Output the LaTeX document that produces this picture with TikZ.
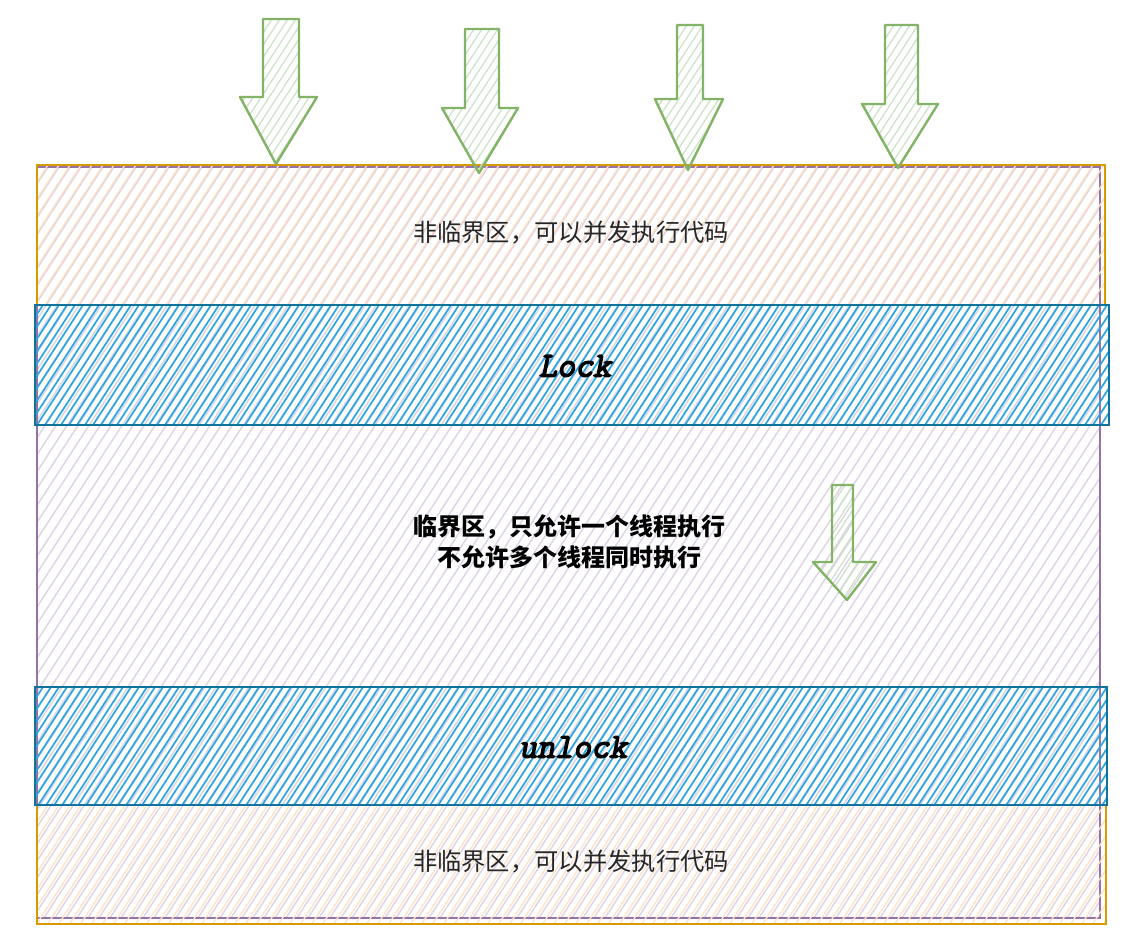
\documentclass[tikz,border=0pt]{standalone}
\usepackage{fontspec}
\newfontfamily\cjk{Noto Sans CJK SC}
\newfontfamily\codef[FakeBold=4,FakeSlant=0.2]{Latin Modern Mono}
\definecolor{purpB}{HTML}{9673A6}
\definecolor{purpH}{HTML}{DDD2E6}
\definecolor{orB}{HTML}{D79B00}
\definecolor{orH}{HTML}{FFE2C4}
\definecolor{blB}{HTML}{10739E}
\definecolor{blH}{HTML}{2AA6E0}
\definecolor{grB}{HTML}{82B366}
\definecolor{grH}{HTML}{C9E2C6}
\newcommand{\hatchlines}[6]{%
  \pgfmathsetmacro\hH{#4-#2}%
  \pgfmathsetmacro\hW{0.65*\hH}%
  \pgfmathsetmacro\hA{#1-\hW}%
  \pgfmathsetmacro\hB{\hA+#6}%
  \foreach \s in {\hA,\hB,...,#3} \draw[#5] (\s,#4) -- ++(\hW,-\hH);%
}
\newcommand{\hatchrect}[6]{%
  \begin{scope}
  \clip (#1,#2) rectangle (#3,#4);
  \hatchlines{#1}{#2}{#3}{#4}{#5}{#6}
  \end{scope}}
% arrow: shaft left, shaft right, top, head y, head left, head right, tip x, tip y
\newcommand{\bigarrow}[8]{%
  \begin{scope}
  \clip (#1,#3) -- (#2,#3) -- (#2,#4) -- (#6,#4) -- (#7,#8) -- (#5,#4) -- (#1,#4) -- cycle;
  \hatchlines{#5}{#3}{#6}{#8}{grH,line width=1.2pt}{8}
  \end{scope}
  \draw[arrowline] (#1,#3) -- (#2,#3) -- (#2,#4) -- (#6,#4) -- (#7,#8) -- (#5,#4) -- (#1,#4) -- cycle;}
\tikzset{
  arrowline/.style={draw=grB, line width=2.4pt, line join=round},
  txt/.style={font=\cjk\fontsize{24.3}{30}\selectfont, text=black!85, align=center},
  btxt/.style={font=\cjk\bfseries\fontsize{24}{31}\selectfont, text=black, align=center},
  code/.style={font=\codef\fontsize{35}{36}\selectfont, text=black}
}
\begin{document}
\begin{tikzpicture}[x=1pt,y=-1pt]
\useasboundingbox[fill=white] (0,0) rectangle (1131,931);
% outer purple region
\hatchrect{37}{167}{1100}{918}{purpH,line width=1.4pt}{11}
\draw[purpB, line width=1.3pt] (37,167) rectangle (1100,918);
% top orange region
\hatchrect{37}{165}{1105}{305}{orH,line width=1.3pt}{11}
\draw[orB, line width=2pt] (37,165) rectangle (1105,305);
% bottom orange region
\hatchrect{37}{805}{1106}{924}{orH,line width=1.3pt}{11}
\draw[orB, line width=2pt] (37,805) rectangle (1106,924);
% Lock band
\hatchrect{35}{305}{1109}{425}{blH,line width=1.7pt}{8}
\draw[blB, line width=2pt] (35,305) rectangle (1109,425);
% unlock band
\hatchrect{35}{687}{1107}{805}{blH,line width=1.7pt}{8}
\draw[blB, line width=2pt] (35,687) rectangle (1107,805);
% arrows
\bigarrow{263}{299}{19}{97}{240}{317}{276}{164}
\bigarrow{465}{499}{29}{108}{442}{518}{479}{173}
\bigarrow{677}{703}{25}{99}{655}{723}{688}{170}
\bigarrow{885}{918}{25}{104}{862}{938}{898}{168}
\bigarrow{832}{853}{485}{562}{813}{876}{847}{600}
% texts
\node[txt] (top) at (571,233) {非临界区，可以并发执行代码};
\node[code] (lock) at (575,366) {Lock};
\node[btxt] (crit) at (569,542) {临界区，只允许一个线程执行\\不允许多个线程同时执行};
\node[code] (unlock) at (573,747) {unlock};
\node[txt] (bottom) at (571,862) {非临界区，可以并发执行代码};
\end{tikzpicture}
\end{document}
